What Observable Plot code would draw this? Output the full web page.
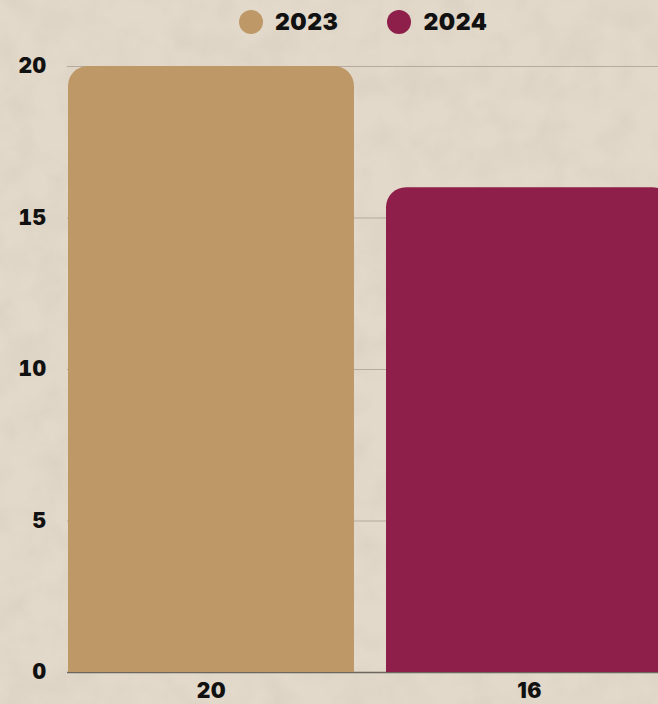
<!DOCTYPE html>
<html>
<head>
<meta charset="utf-8">
<script src="https://cdn.jsdelivr.net/npm/d3@7"></script>
<script src="https://cdn.jsdelivr.net/npm/@observablehq/plot@0.6"></script>
<style>
  html, body { margin: 0; padding: 0; width: 658px; height: 704px; overflow: hidden; }
  body {
    background-color: #e3d9ca;
    background-image: url("data:image/svg+xml;utf8,<svg xmlns='http://www.w3.org/2000/svg' width='658' height='704'><filter id='n'><feTurbulence type='fractalNoise' baseFrequency='0.03' numOctaves='5' seed='7'/><feColorMatrix values='0 0 0 0 0.6  0 0 0 0 0.55  0 0 0 0 0.47  0 0 0 0.6 -0.22'/></filter><rect width='100%' height='100%' filter='url(%23n)'/></svg>");
    font-family: Inter, "DejaVu Sans", sans-serif;
  }
  #legend { height: 44px; display: flex; align-items: center; justify-content: flex-start; padding-left: 239px; box-sizing: border-box; }
  .item { display: flex; align-items: center; font-weight: 900; font-size: 23px; color: #111; letter-spacing: 0.5px; }
  .item + .item { margin-left: 49px; }
  .sw { width: 24px; height: 24px; border-radius: 50%; margin-right: 12px; }
  #chart svg { overflow: visible; display: block; max-width: none !important; height: 660px !important; }
</style>
</head>
<body>
<div id="legend"></div>
<div id="chart"></div>
<script>
const years = ["2023", "2024"];
const values = [20, 16];
const colors = ["#be9867", "#8e1f4b"];
const yTicks = [0, 5, 10, 15, 20];

const data = years.map((y, i) => ({year: y, value: values[i]}));

const legend = document.getElementById("legend");
years.forEach((y, i) => {
  const it = document.createElement("div");
  it.className = "item";
  it.innerHTML = `<span class="sw" style="background:${colors[i]}"></span>${y}`;
  legend.appendChild(it);
});

const chart = Plot.plot({
  width: 680,
  height: 660,
  marginTop: 22,
  marginBottom: 32,
  marginLeft: 67,
  marginRight: 7,
  style: {background: "transparent", fontFamily: "Inter, 'DejaVu Sans', sans-serif", fontWeight: 900, fontSize: "21px", color: "#111", letterSpacing: "0.5px"},
  x: {domain: years, padding: 0.1, paddingOuter: 0, label: null, tickSize: 0, tickPadding: 11,
      tickFormat: (d) => String(values[years.indexOf(d)])},
  y: {domain: [0, 20], ticks: yTicks, label: null, tickSize: 0, tickPadding: 21},
  color: {domain: years, range: colors},
  marks: [
    Plot.gridY(yTicks, {stroke: "#8f877a", strokeOpacity: 0.55, strokeWidth: 1}),
    Plot.ruleY([0], {stroke: "#6b6660", strokeWidth: 1.5}),
    Plot.barY(data, {x: "year", y: "value", fill: "year", rx: 20, ry: 20}),
    Plot.barY(data, {x: "year", y1: 0, y2: d => d.value - 2, fill: "year"})
  ]
});
document.getElementById("chart").appendChild(chart);
</script>
</body>
</html>
